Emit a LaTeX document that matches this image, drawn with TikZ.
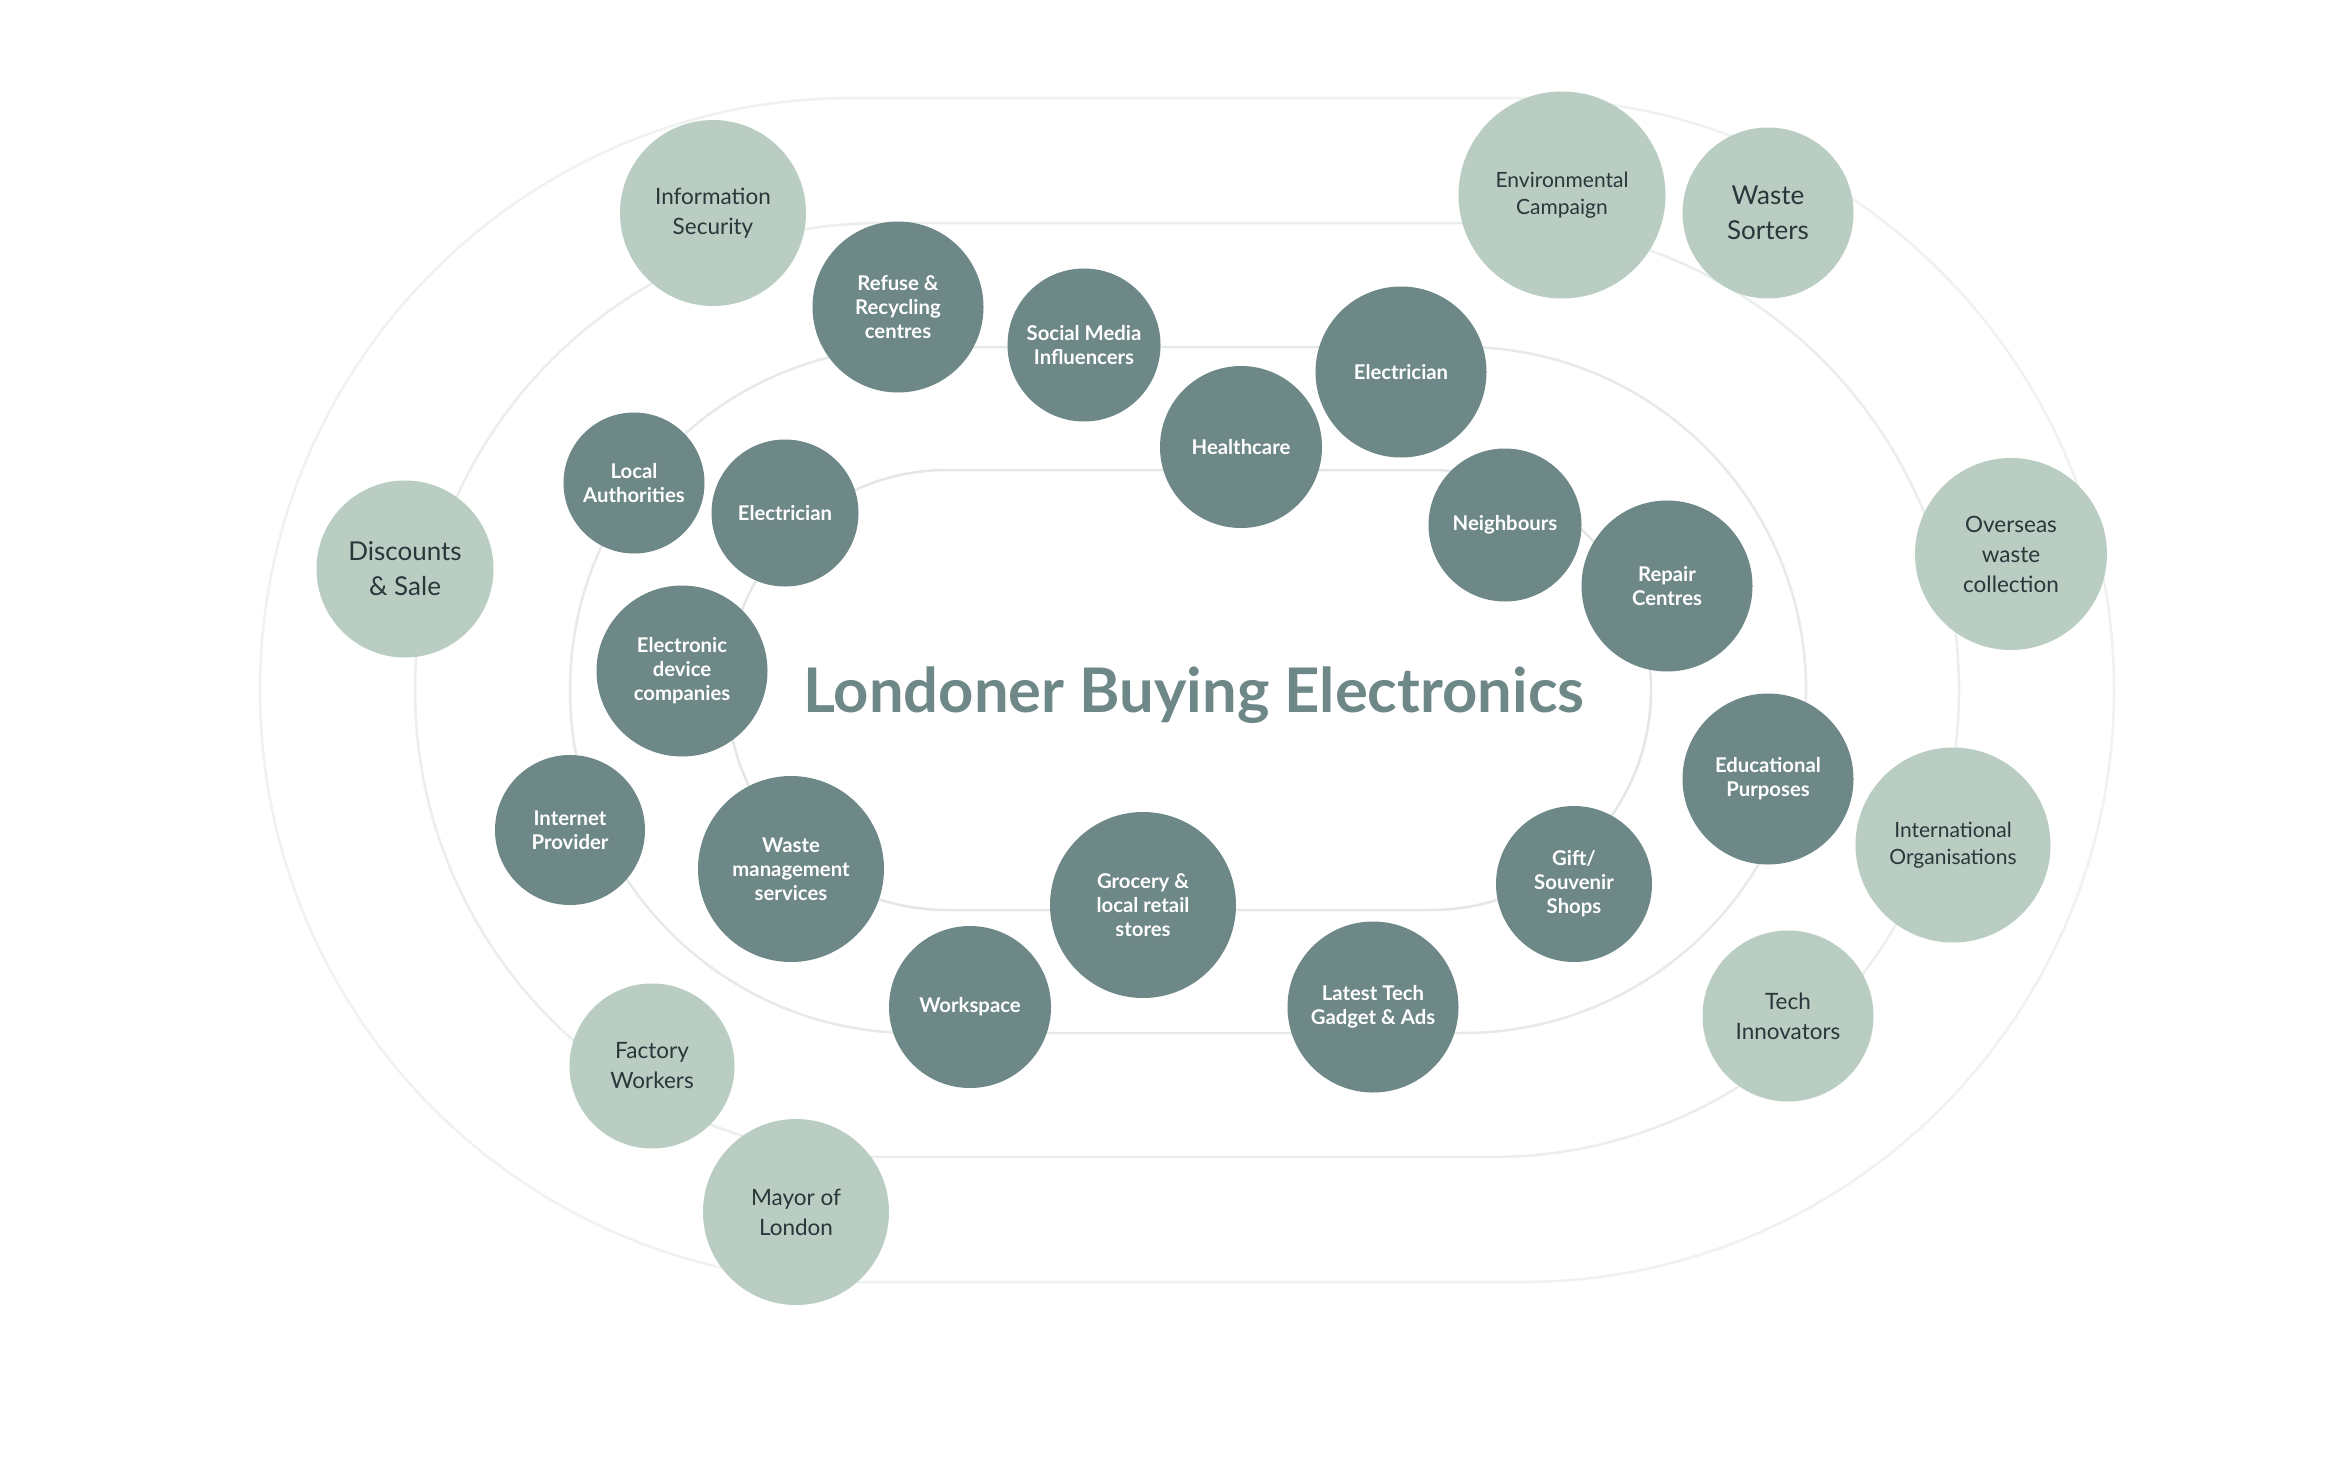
\documentclass[tikz,border=0pt]{standalone}
\usepackage{fontspec}
\setmainfont{Lato}
\definecolor{darkn}{HTML}{6E8787}
\definecolor{lightn}{HTML}{B9CDC2}
\definecolor{ltext}{HTML}{27373A}
\definecolor{ringa}{HTML}{E3E7E7}
\definecolor{ringb}{HTML}{E7EAEA}
\definecolor{ringc}{HTML}{EBEEEE}
\definecolor{ringd}{HTML}{F0F2F2}
\tikzset{
  dnode/.style={circle, fill=darkn, inner sep=0pt, align=center, text=white,
    font=\fontsize{20.3}{24}\selectfont\bfseries},
  lnode/.style={circle, fill=lightn, inner sep=0pt, align=center, text=ltext,
    font=\fontsize{22.5}{30}\selectfont},
  lbig/.style={lnode, font=\fontsize{26}{35}\selectfont},
  lsmall/.style={lnode, font=\fontsize{21}{27}\selectfont},
  ringline/.style={line width=2.5pt},
}
\newcommand{\stadium}[5]{% cx cy hw hh color
  \draw[ringline, draw=#5] ({#1-#3+#4},{#2-#4}) -- ({#1+#3-#4},{#2-#4})
    arc[start angle=-90, end angle=90, radius=#4]
    -- ({#1-#3+#4},{#2+#4})
    arc[start angle=90, end angle=270, radius=#4] -- cycle;}
\begin{document}
\begin{tikzpicture}[x=1pt,y=-1pt]
\useasboundingbox[fill=white] (0,0) rectangle (2350,1480);
% rings
\stadium{1187}{690}{927}{592}{ringd}
\stadium{1187}{690}{772}{467}{ringc}
\stadium{1188}{690}{618}{343}{ringb}
\stadium{1189}{690}{462}{220}{ringa}
% title
\node[text=darkn, font=\fontsize{61.5}{62}\selectfont\bfseries] (title) at (1194,695) {Londoner Buying Electronics};
% outer light nodes
\node[lnode, minimum size=186pt] (infosec) at (713,213) {Information\\Security};
\node[lsmall, minimum size=207pt] (envcamp) at (1562,195) {Environmental\\Campaign};
\node[lbig, minimum size=171pt] (sorters) at (1768,213) {Waste\\Sorters};
\node[lbig, minimum size=177pt] (discounts) at (405,569) {Discounts\\\& Sale};
\node[lnode, minimum size=192pt] (overseas) at (2011,554) {Overseas\\waste\\collection};
\node[lsmall, minimum size=195pt] (intl) at (1953,845) {International\\Organisations};
\node[lnode, minimum size=171pt] (techinn) at (1788,1016) {Tech\\Innovators};
\node[lnode, minimum size=165pt] (factory) at (652,1066) {Factory\\Workers};
\node[lnode, minimum size=186pt] (mayor) at (796,1212) {Mayor of\\London};
% inner dark nodes
\node[dnode, minimum size=171pt] (refuse) at (898,307) {Refuse \&\\Recycling\\centres};
\node[dnode, minimum size=153pt] (social) at (1084,345) {Social Media\\Influencers};
\node[dnode, minimum size=162pt] (health) at (1241,447) {Healthcare};
\node[dnode, minimum size=171pt] (elecr) at (1401,372) {Electrician};
\node[dnode, minimum size=153pt] (neigh) at (1505,525) {Neighbours};
\node[dnode, minimum size=171pt] (repair) at (1667,586) {Repair\\Centres};
\node[dnode, minimum size=141pt] (localauth) at (634,483) {Local\\Authorities};
\node[dnode, minimum size=147pt] (elecl) at (785,513) {Electrician};
\node[dnode, minimum size=171pt] (elecdev) at (682,671) {Electronic\\device\\companies};
\node[dnode, minimum size=150pt] (internet) at (570,830) {Internet\\Provider};
\node[dnode, minimum size=186pt] (wastemgmt) at (791,869) {Waste\\management\\services};
\node[dnode, minimum size=162pt] (workspace) at (970,1007) {Workspace};
\node[dnode, minimum size=186pt] (grocery) at (1143,905) {Grocery \&\\local retail\\stores};
\node[dnode, minimum size=171pt] (latest) at (1373,1007) {Latest Tech\\Gadget \& Ads};
\node[dnode, minimum size=156pt] (gift) at (1574,884) {Gift/\\Souvenir\\Shops};
\node[dnode, minimum size=171pt] (edu) at (1768,779) {Educational\\Purposes};
\end{tikzpicture}
\end{document}
